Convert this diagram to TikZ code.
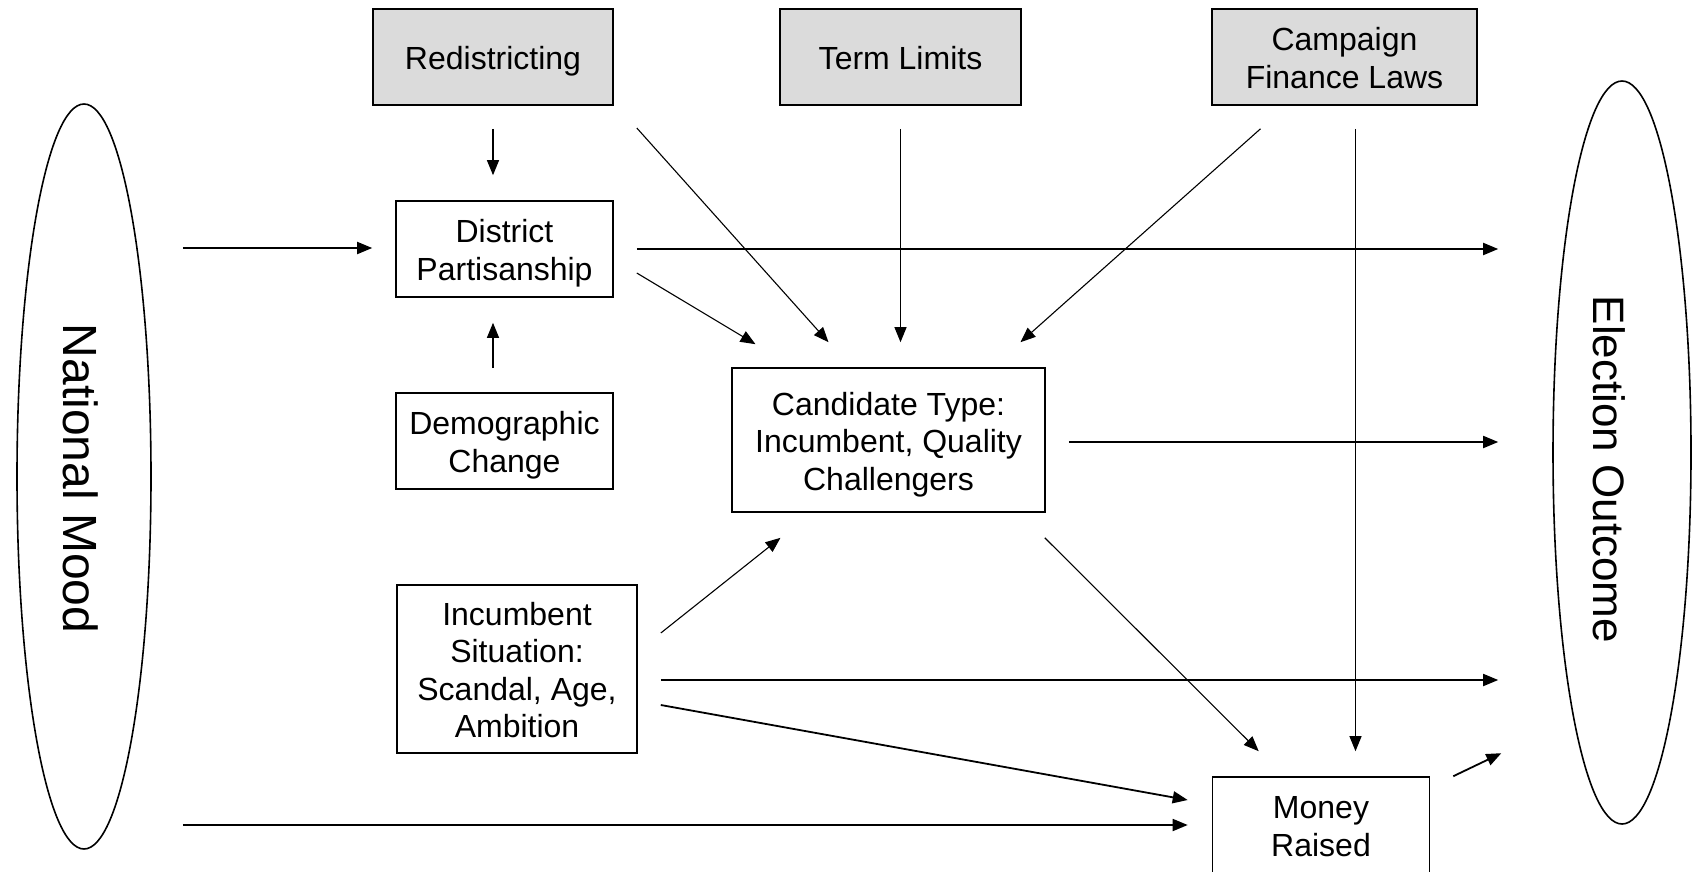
\documentclass[tikz,border=0pt]{standalone}
\usepackage{fontspec}
\setmainfont{Liberation Sans}
\usetikzlibrary{arrows.meta,calc,shapes.geometric}
\newcommand{\boxtext}[2][-5pt]{\raisebox{#1}[\height][\depth]{\begin{tabular}{@{}c@{}}#2\end{tabular}}}
\tikzset{
  box/.style={draw, line width=1.6pt, inner sep=0pt, align=center,
    font=\fontsize{32}{37.5}\selectfont},
  graybox/.style={box, fill=gray!28},
  oval/.style={draw, ellipse, line width=1.6pt, inner sep=0pt},
  ovaltext/.style={rotate=-90, inner sep=0pt},
  arr/.style={-{Triangle[length=15pt,width=12pt]}, line width=1.1pt},
  harr/.style={arr, line width=1.8pt}
}
\begin{document}
\begin{tikzpicture}[x=1pt,y=-1pt]
\useasboundingbox (0,0) rectangle (1696,872);
% ovals
\node[oval, minimum width=134, minimum height=745] (nm) at (84,476.5) {};
\node[ovaltext, font=\fontsize{48}{52}\selectfont] (nmtext) at ($(nm.center)+(-3,2)$) {National Mood};
\node[oval, minimum width=138, minimum height=743] (elec) at (1622,452.5) {};
\node[ovaltext, font=\fontsize{44}{48}\selectfont] (electext) at ($(elec.center)+(-13,17)$) {Election Outcome};
% policy boxes
\node[graybox, minimum width=240, minimum height=96] (redis) at (493,57) {\boxtext{Redistricting}};
\node[graybox, minimum width=241, minimum height=96] (term) at (900.5,57) {\boxtext{Term Limits}};
\node[graybox, minimum width=265, minimum height=96] (camp) at (1344.5,57) {\boxtext{Campaign\\Finance Laws}};
% other boxes
\node[box, minimum width=217, minimum height=96] (dist) at (504.5,249) {\boxtext{District\\Partisanship}};
\node[box, minimum width=217, minimum height=96] (demo) at (504.5,441) {\boxtext{Demographic\\Change}};
\node[box, minimum width=313, minimum height=144] (cand) at (888.5,440) {\boxtext{Candidate Type:\\Incumbent, Quality\\Challengers}};
\node[box, minimum width=240, minimum height=168] (incumb) at (517,669) {\boxtext{Incumbent\\Situation:\\Scandal, Age,\\Ambition}};
\node[box, minimum width=217, minimum height=100] (money) at (1321,827) {\boxtext[-3pt]{Money\\Raised}};
% connectors
\draw[arr] ($(redis.south)+(0,23)$) -- ($(redis.south |- dist.north)+(0,-25)$);
\draw[arr] ($(redis.south |- demo.north)+(0,-24)$) -- ($(redis.south |- dist.south)+(0,25)$);
\draw[harr] ($(nm.east |- dist.west)+(31,-1)$) -- ($(dist.west)+(-23,-1)$);
\draw[harr] ($(dist.east)+(23,0)$) -- ($(elec.west |- dist.east)+(-54,0)$);
\draw[arr] ($(dist.east)+(23,24)$) -- ($(cand.north)+(-133,-23)$);
\draw[arr] ($(redis.east)+(23,71)$) -- ($(cand.north)+(-60,-25)$);
\draw[arr] ($(term.south)+(0,23)$) -- ($(term.south |- cand.north)+(0,-25)$);
\draw[arr] ($(camp.south)+(-84,23)$) -- ($(cand.north)+(132,-25)$);
\draw[arr] ($(camp.south)+(11,23)$) -- ($(camp.south |- money.north)+(11,-25)$);
\draw[harr] ($(cand.east)+(23,2)$) -- ($(elec.west |- cand.east)+(-54,2)$);
\draw[arr] ($(cand.south east)+(-1,25)$) -- ($(money.north west)+(47,-25)$);
\draw[arr] ($(incumb.east)+(23,-36)$) -- ($(cand.south)+(-108,25)$);
\draw[harr] ($(incumb.east)+(23,11)$) -- ($(elec.west |- incumb.east)+(-54,11)$);
\draw[harr] ($(incumb.east)+(23,36)$) -- ($(money.west)+(-24,-27)$);
\draw[harr] ($(nm.east |- money.west)+(31,-2)$) -- ($(money.west)+(-24,-2)$);
\draw[harr] ($(money.north east)+(23,0)$) -- ($(money.north east)+(71,-23)$);
\end{tikzpicture}
\end{document}
